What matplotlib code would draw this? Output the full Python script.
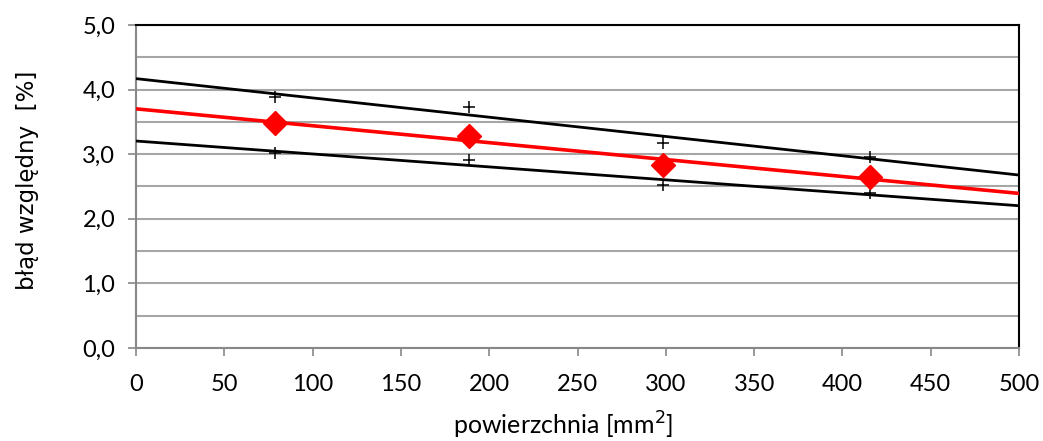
import matplotlib
matplotlib.use("Agg")
import matplotlib.pyplot as plt
import numpy as np

# surface area [mm^2] and relative error [%]
area = [78.5, 188.7, 298.6, 415.5]
err_mean = [3.48, 3.28, 2.83, 2.65]
err_upper = [3.89, 3.73, 3.17, 2.96]
err_lower = [3.02, 2.91, 2.52, 2.40]

x_ticks = [0, 50, 100, 150, 200, 250, 300, 350, 400, 450, 500]
y_ticks = [0.0, 1.0, 2.0, 3.0, 4.0, 5.0]

plt.rcParams["font.family"] = ["Lato", "DejaVu Sans"]

fig = plt.figure(figsize=(10.43, 4.41), dpi=100)
ax = fig.add_axes([0.1304, 0.2109, 0.8466, 0.7324])

# linear trend lines fitted to each series
xx = np.array([0, 500])
for ys, col, lw in [(err_upper, "black", 2.0), (err_lower, "black", 2.0), (err_mean, "#ff0000", 2.6)]:
    k, b = np.polyfit(area, ys, 1)
    ax.plot(xx, k * xx + b, color=col, lw=lw, zorder=3, solid_capstyle="butt")

ax.plot(area, err_upper, ls="none", marker="+", ms=8, mew=1.1, color="black", zorder=4)
ax.plot(area, err_lower, ls="none", marker="+", ms=8, mew=1.1, color="black", zorder=4)
ax.plot(area, err_mean, ls="none", marker="D", ms=12.5, color="#ff0000", zorder=5)

ax.set_xlim(0, 500)
ax.set_ylim(0, 5)
ax.set_xticks(x_ticks)
ax.set_xticklabels([str(v) for v in x_ticks])
ax.set_yticks(y_ticks)
ax.set_yticklabels([f"{v:.1f}".replace(".", ",") for v in y_ticks])
ax.set_yticks(np.arange(0.5, 5.0, 1.0), minor=True)
ax.grid(True, axis="y", which="both", color="#a6a6a6", lw=1.5, zorder=1)
ax.set_axisbelow(True)

ax.tick_params(axis="both", which="major", direction="out", length=6, width=1.2,
               color="#888888", labelsize=17)
ax.tick_params(axis="x", pad=13)
ax.tick_params(axis="y", pad=9)
ax.tick_params(axis="y", which="minor", length=0)

for s in ("left", "bottom"):
    ax.spines[s].set_color("#888888")
    ax.spines[s].set_linewidth(1.5)
for s in ("top", "right"):
    ax.spines[s].set_color("black")
    ax.spines[s].set_linewidth(1.5)

# axis titles placed in figure coordinates
fig.text(563 / 1043, 1 - 425 / 441, "powierzchnia [mm$^2$]", fontsize=18,
         ha="center", va="center")
fig.text(28 / 1043, 1 - 180 / 441, "błąd względny  [%]", fontsize=16.5,
         rotation=90, ha="center", va="center", family=["DejaVu Sans"])

fig.savefig("out.png", dpi=100)
